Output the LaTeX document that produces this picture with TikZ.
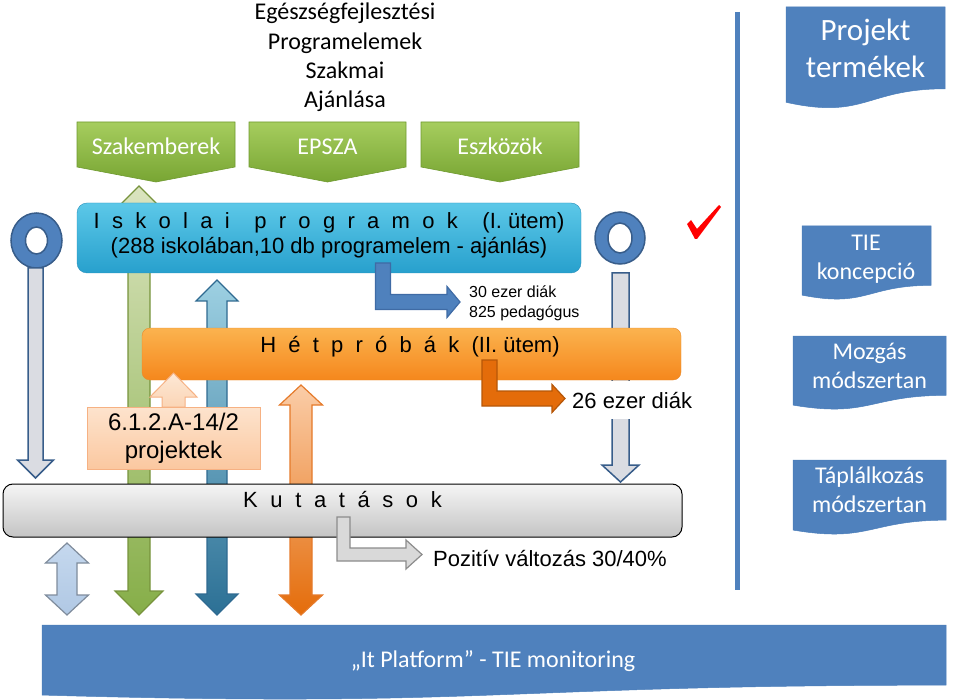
\documentclass[tikz,border=0pt]{standalone}
\usepackage{fontspec}
\setmainfont{Carlito}
\newfontfamily\arialfont{Liberation Sans}
\usetikzlibrary{calc,positioning}

\definecolor{tieblue}{HTML}{4F81BD}
\definecolor{ringline}{HTML}{385D8A}
\definecolor{bargray}{HTML}{DADCE2}

% block arrow shapes, all in pixel units
\newcommand{\vsarrow}[7]{% style, x, y start, y head base, y tip, stem half, head half
  \draw[#1] ({#2-#6},#3) -- ({#2-#6},#4) -- ({#2-#7},#4) -- (#2,#5) -- ({#2+#7},#4) -- ({#2+#6},#4) -- ({#2+#6},#3) -- cycle;}
\newcommand{\vdarrow}[7]{% style, x, top tip, bottom tip, stem half, head half, head length
  \draw[#1] (#2,#3) -- ({#2+#6},{#3+#7}) -- ({#2+#5},{#3+#7}) -- ({#2+#5},{#4-#7}) -- ({#2+#6},{#4-#7}) -- (#2,#4)
    -- ({#2-#6},{#4-#7}) -- ({#2-#5},{#4-#7}) -- ({#2-#5},{#3+#7}) -- ({#2-#6},{#3+#7}) -- cycle;}
\newcommand{\bentarrow}[8]{% style, x, y top, y arm, x tip, half width, head half, head length
  \draw[#1] ({#2-#6},#3) -- ({#2+#6},#3) -- ({#2+#6},{#4-#6}) -- ({#5-#8},{#4-#6}) -- ({#5-#8},{#4-#7}) -- (#5,#4)
    -- ({#5-#8},{#4+#7}) -- ({#5-#8},{#4+#6}) -- ({#2-#6},{#4+#6}) -- cycle;}
\newcommand{\docshape}[5]{% style, x left, y top, x right, height
  \draw[#1] (#2,#3) -- (#4,#3) -- (#4,{#3+0.802*#5}) .. controls ({(#2+#4)/2},{#3+0.802*#5}) and ({(#2+#4)/2},{#3+1.107*#5}) .. (#2,{#3+0.934*#5}) -- cycle;}

\begin{document}
\begin{tikzpicture}[x=1pt,y=-1pt,
    ring/.style={fill=tieblue, draw=ringline, line width=1.5pt},
    pinbar/.style={fill=bargray, draw=ringline, line width=1.5pt},
    greenarr/.style={top color=green!15!olive!25!white, bottom color={rgb,255:red,134;green,174;blue,72}, draw={rgb,255:red,119;green,147;blue,60}, line width=1.2pt},
    tealarr/.style={top color={rgb,255:red,157;green,208;blue,226}, bottom color={rgb,255:red,44;green,112;blue,149}, draw={rgb,255:red,47;green,106;blue,145}, line width=1.2pt},
    orangearr/.style={top color={rgb,255:red,251;green,205;blue,168}, bottom color={rgb,255:red,228;green,108;blue,10}, draw={rgb,255:red,229;green,122;blue,42}, line width=1.2pt},
    smallarr/.style={top color={rgb,255:red,197;green,216;blue,238}, bottom color={rgb,255:red,176;green,200;blue,228}, draw={rgb,255:red,127;green,140;blue,156}, line width=1.2pt},
    peacharr/.style={top color={rgb,255:red,253;green,232;blue,214}, bottom color={rgb,255:red,251;green,213;blue,181}, draw={rgb,255:red,246;green,177;blue,131}, line width=1pt},
    greenbox/.style={top color={rgb,255:red,166;green,205;blue,94}, bottom color={rgb,255:red,120;green,165;blue,51}, draw={rgb,255:red,111;green,154;blue,48}, line width=.6pt},
    greentext/.style={text=white, font=\fontsize{24}{29}\selectfont, inner sep=0},
    bentblue/.style={fill=tieblue, draw={rgb,255:red,63;green,107;blue,165}, line width=1.2pt},
    bentorange/.style={fill={rgb,255:red,228;green,108;blue,10}, draw={rgb,255:red,182;green,87;blue,8}, line width=1.2pt},
    bentgray/.style={fill={rgb,255:red,217;green,217;blue,217}, draw={rgb,255:red,140;green,140;blue,140}, line width=1.2pt},
    docfill/.style={fill=tieblue, draw={rgb,255:red,74;green,125;blue,186}, line width=.5pt},
    doctext/.style={text=white, align=center, inner sep=0},
    arialtext/.style={inner sep=0, font=\arialfont\fontsize{22}{25}\selectfont}]

    \useasboundingbox (0,0) rectangle (960,700);

    % separator line of the products column
    \draw[tieblue, line width=5pt] (737,12) -- (737,590);

    % the two pins
    \draw[ring, even odd rule] (36.5,240.5) ellipse [x radius=25.5pt, y radius=27.5pt]
        (36.5,240.5) ellipse [x radius=11pt, y radius=13.5pt];
    \vsarrow{pinbar}{35.5}{268}{460}{478}{7.5}{18}
    \draw[ring, even odd rule] (620,238) ellipse [x radius=25pt, y radius=26pt]
        (620,238) ellipse [x radius=12pt, y radius=15pt];
    \vsarrow{pinbar}{620.5}{273}{465}{482}{8.5}{18.5}

    % long double arrows behind the boxes
    \vdarrow{greenarr}{139}{186}{615}{11}{24}{24}
    \vdarrow{tealarr}{217}{280}{615}{10}{21}{21}
    \vdarrow{orangearr}{301}{385}{615}{11}{21.5}{20}
    \vdarrow{smallarr}{67}{543}{615}{10}{21.5}{20}

    % title
    \node[align=center, font=\fontsize{24}{29.3}\selectfont, inner sep=0] (title) at (345,57.5)
        {Egészségfejlesztési\\Programelemek\\Szakmai\\Ajánlása};

    % green chevrons
    \foreach \xa/\xb/\lab/\nm in {77/235/Szakemberek/szak, 249/406/EPSZA/epsza, 421/579/Eszközök/eszk} {
        \draw[greenbox] (\xa,122) -- (\xb,122) -- (\xb,167) -- ({(\xa+\xb)/2},182) -- (\xa,167) -- cycle;
        \node[greentext, anchor=base] (\nm) at ({(\xa+\xb)/2},155) {\lab};
    }

    % the three main bars
    \node[top color={rgb,255:red,92;green,200;blue,232}, bottom color={rgb,255:red,39;green,160;blue,205},
        draw={rgb,255:red,42;green,144;blue,187}, rounded corners=10pt, minimum width=504pt, minimum height=70pt] (iskola) at (329,238) {};
    \node[arialtext, align=center, execute at begin node={\spaceskip=12.3pt\relax}] (iskolatxt) at (329,235)
        {I s k o l a i\ \ p r o g r a m o k\ \ {\spaceskip=0pt(I. ütem)}\\{\spaceskip=0pt (288 iskolában,10 db programelem - ajánlás)}};

    \node[top color={rgb,255:red,251;green,179;blue,79}, bottom color={rgb,255:red,245;green,135;blue,28},
        draw={rgb,255:red,233;green,138;blue,44}, rounded corners=8pt, minimum width=539pt, minimum height=52pt] (hetprobak) at (411.5,354) {};
    \node[arialtext, execute at begin node={\spaceskip=12.2pt\relax}] (hetprobaktxt) at (410,347)
        {H é t p r ó b á k {\spaceskip=0pt(II. ütem)}};

    \node[top color={rgb,255:red,245;green,245;blue,245}, bottom color={rgb,255:red,196;green,196;blue,196},
        draw=black, line width=1pt, rounded corners=10pt, minimum width=679pt, minimum height=53pt] (kutatas) at (342.5,510.5) {};
    \node[arialtext, anchor=base, execute at begin node={\spaceskip=12.6pt\relax}] (kutatastxt) at (342.5,507)
        {K u t a t á s o k};

    % project box with its arrow
    \vsarrow{peacharr}{173.5}{407}{397}{373}{11.5}{23.5}
    \node[top color={rgb,255:red,253;green,227;blue,205}, bottom color={rgb,255:red,251;green,200;blue,160},
        draw={rgb,255:red,246;green,177;blue,131}, minimum width=173pt, minimum height=62pt, align=center,
        font=\arialfont\fontsize{24}{28}\selectfont, inner sep=0] (proj612) at (173.5,438) {6.1.2.A-14/2\\projektek};

    % results
    \node[anchor=west, align=left, inner sep=0, font=\arialfont\fontsize{16}{20}\selectfont] (diak30) at (469,303)
        {30 ezer diák\\825 pedagógus};
    \node[arialtext, anchor=base west, fill=white, inner ysep=11pt] (diak26) at (572,408) {26 ezer diák};
    \node[arialtext, anchor=base west] (pozitiv) at (433,566) {Pozitív változás 30/40\%};

    \bentarrow{bentblue}{383}{263}{302}{460}{7.5}{15.5}{13}
    \bentarrow{bentorange}{489.5}{360}{398.5}{565}{7.5}{14}{13}
    \bentarrow{bentgray}{343.5}{517}{554.5}{422}{6.5}{14.5}{16}

    % check mark
    \fill[red] (687,224) -- (691,220) -- (697,229) -- (719,205) -- (721,207) -- (697,239) -- (695,239) -- cycle;

    % project products
    \docshape{docfill}{786}{7}{945}{102}
    \node[doctext, font=\fontsize{31}{37}\selectfont] (projekt) at (865.5,48) {Projekt\\termékek};
    \docshape{docfill}{802}{226}{931}{74}
    \node[doctext, font=\fontsize{24}{29}\selectfont] (tie) at (866,259) {TIE\\koncepció};
    \docshape{docfill}{793}{336}{946}{74}
    \node[doctext, font=\fontsize{24}{29}\selectfont] (mozgas) at (869.5,366) {Mozgás\\módszertan};
    \docshape{docfill}{793}{460}{946}{75}
    \node[doctext, font=\fontsize{24}{29}\selectfont] (taplal) at (869.5,490) {Táplálkozás\\módszertan};

    % platform band
    \docshape{docfill}{42}{625}{946}{75}
    \node[doctext, anchor=base, font=\fontsize{24}{29}\selectfont] (platform) at (493,667) {„It Platform” - TIE monitoring};
\end{tikzpicture}
\end{document}
